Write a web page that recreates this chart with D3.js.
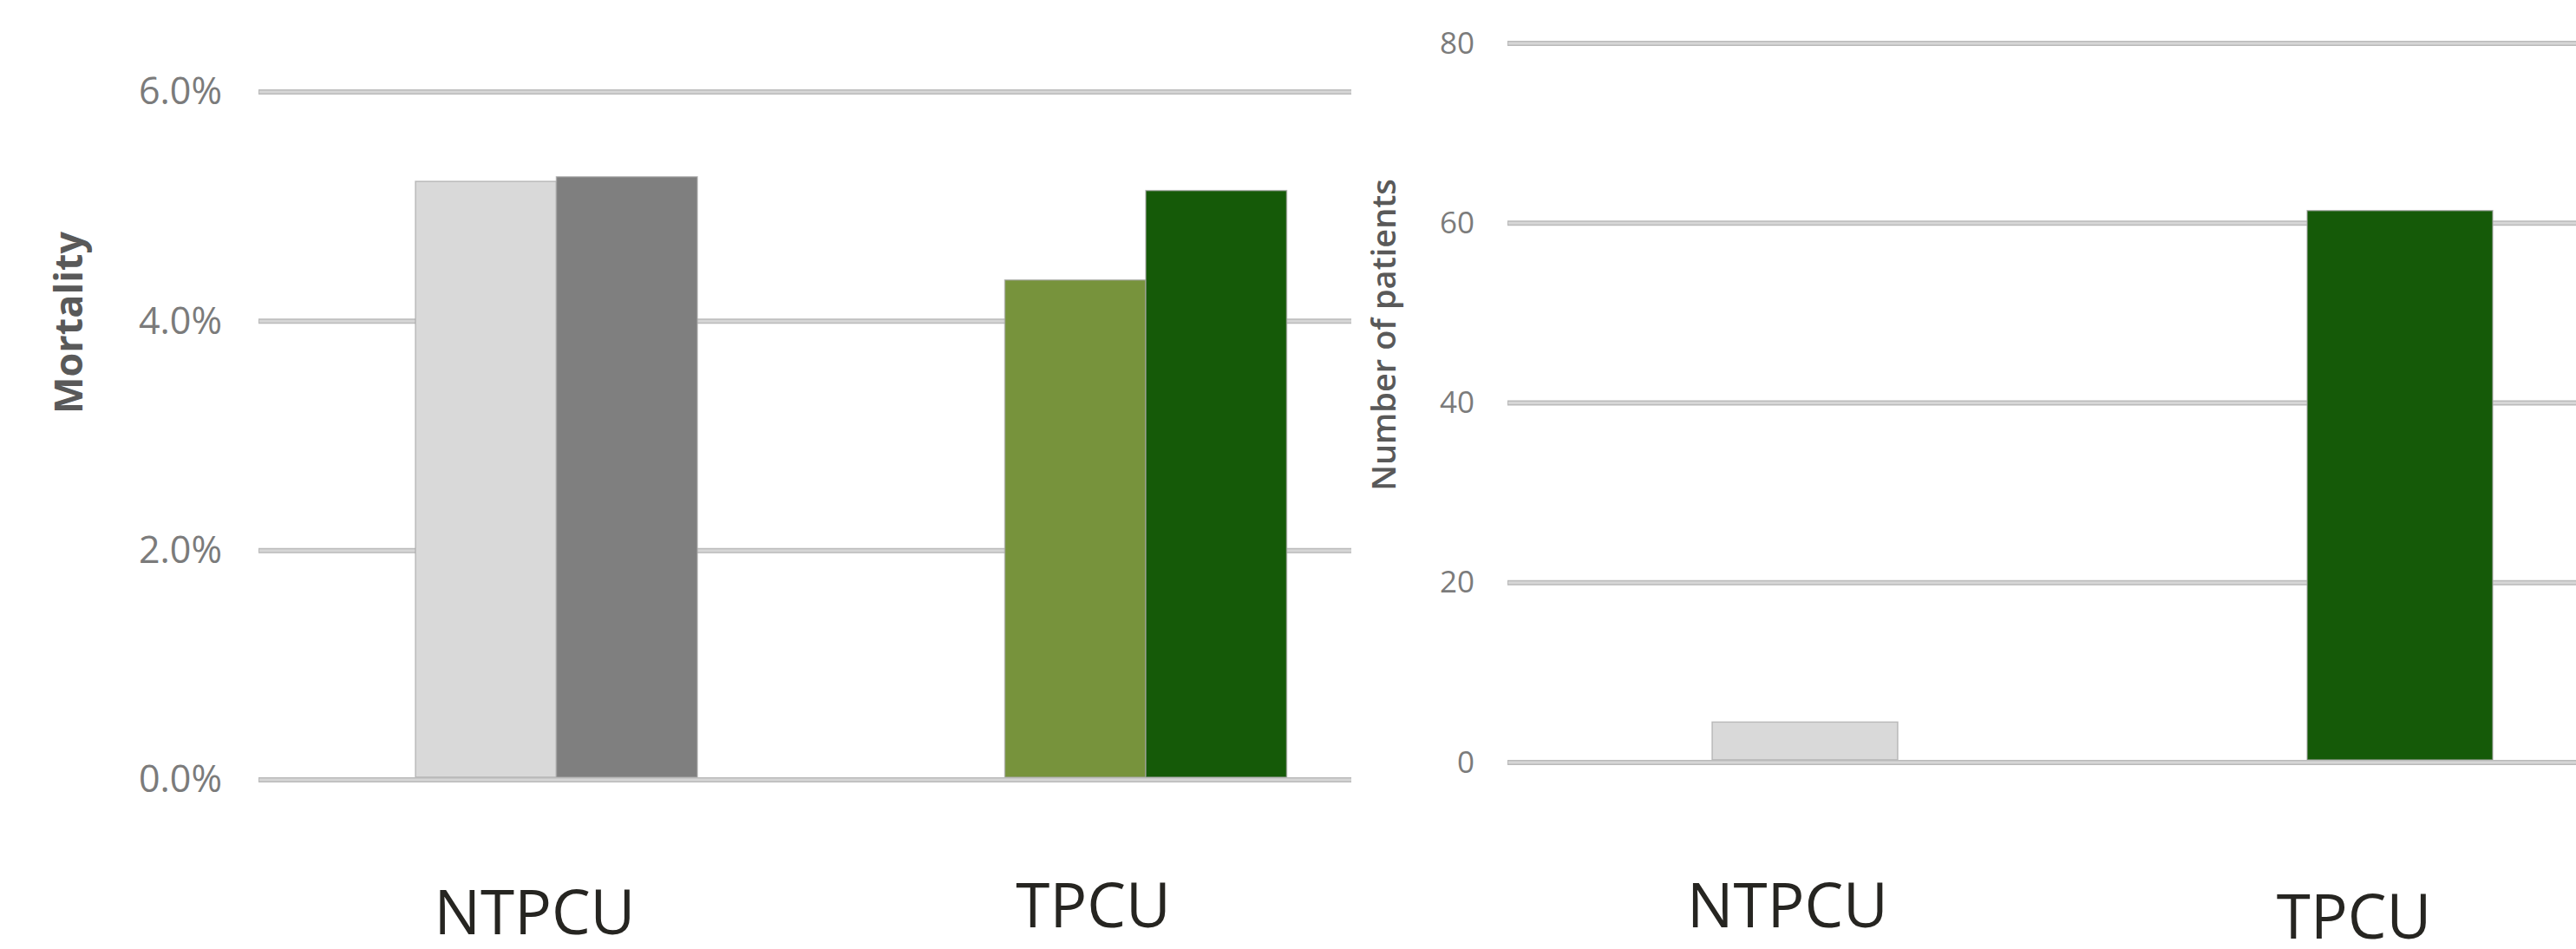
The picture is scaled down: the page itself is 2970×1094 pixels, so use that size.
<!DOCTYPE html>
<html>
<head>
<meta charset="utf-8">
<script src="https://cdn.jsdelivr.net/npm/d3@7"></script>
<style>
  html, body { margin: 0; padding: 0; background: #ffffff; }
  svg { display: block; }
</style>
</head>
<body>
<svg id="chart" width="2970" height="1094"></svg>
<script>
// ---- data ----
const categories = ["NTPCU", "TPCU"];
// mortality (%) per unit, two bars per unit
const mortalityValues = [[5.22, 5.26], [4.36, 5.14]];
const mortalityColors = [["#d9d9d9", "#7f7f7f"], ["#77933c", "#155a08"]];
const mortalityTicks = [0, 2, 4, 6];
// number of patients per unit
const patientCounts = [4.5, 61.4];
const patientColors = ["#d9d9d9", "#155a08"];
const patientTicks = [0, 20, 40, 60, 80];

const svg = d3.select("#chart");

function gridLines(g, ticks, y, x0, x1) {
  const sel = g.selectAll("g.grid").data(ticks).join("g").attr("class", "grid");
  sel.append("line")
    .attr("x1", x0).attr("x2", x1)
    .attr("y1", d => y(d)).attr("y2", d => y(d))
    .attr("stroke", "#bababa").attr("stroke-width", 6);
  sel.append("line")
    .attr("x1", x0 + 1).attr("x2", x1)
    .attr("y1", d => y(d)).attr("y2", d => y(d))
    .attr("stroke", "#d6d6d6").attr("stroke-width", 3);
}

function styleAxis(g, size) {
  g.select(".domain").remove();
  g.selectAll(".tick line").remove();
  g.selectAll(".tick text")
    .attr("font-family", "'Open Sans', sans-serif")
    .attr("font-size", size)
    .attr("fill", "#7b7b7b");
}

// ---- left panel: mortality ----
{
  const gridX0 = 298, gridX1 = 1558;
  const y = d3.scaleLinear().domain([0, 6]).range([899, 106]);
  const x = d3.scalePoint().domain(categories).range([641.5, 1321]);
  const sub = d3.scaleBand().domain([0, 1]).range([-162.5, 162.5]).padding(0);

  const g = svg.append("g");
  gridLines(g, mortalityTicks, y, gridX0, gridX1);

  const groups = g.selectAll("g.cat").data(categories).join("g")
    .attr("class", "cat")
    .attr("transform", d => `translate(${x(d)},0)`);
  groups.selectAll("rect")
    .data((d, i) => mortalityValues[i].map((v, j) => ({ v, c: mortalityColors[i][j], j })))
    .join("rect")
    .attr("x", d => sub(d.j))
    .attr("width", sub.bandwidth())
    .attr("y", d => y(d.v))
    .attr("height", d => y(0) - 3 - y(d.v))
    .attr("fill", d => d.c)
    .attr("stroke", "#a6a6a6")
    .attr("stroke-opacity", 0.7)
    .attr("stroke-width", 1.5);

  // baseline on top of the bars
  gridLines(svg.append("g"), [0], y, gridX0, gridX1);

  const axis = svg.append("g")
    .attr("transform", `translate(${gridX0 - 42},0)`)
    .call(d3.axisLeft(y).tickValues(mortalityTicks).tickSize(0).tickPadding(0)
      .tickFormat(d => d3.format(".1f")(d) + "%"));
  styleAxis(axis, 43);

  svg.append("text")
    .attr("transform", "translate(95,372) rotate(-90)")
    .attr("text-anchor", "middle")
    .attr("font-family", "'Open Sans', sans-serif")
    .attr("font-weight", 700)
    .attr("font-size", 45)
    .attr("fill", "#595959")
    .text("Mortality");

  const labelX = d3.scalePoint().domain(categories).range([616.5, 1260.5]);
  const labelBase = { NTPCU: 1077, TPCU: 1069 };
  svg.append("g").selectAll("text").data(categories).join("text")
    .attr("x", d => labelX(d))
    .attr("y", d => labelBase[d])
    .attr("text-anchor", "middle")
    .attr("font-family", "'Open Sans', sans-serif")
    .attr("font-size", 71)
    .attr("fill", "#262521")
    .text(d => d);
}

// ---- right panel: number of patients ----
{
  const gridX0 = 1738, gridX1 = 2970;
  const y = d3.scaleLinear().domain([0, 80]).range([879, 50]);
  const x = d3.scalePoint().domain(categories).range([2081, 2767]);
  const barW = 214;

  const g = svg.append("g");
  gridLines(g, patientTicks, y, gridX0, gridX1);

  g.selectAll("rect.bar").data(categories).join("rect")
    .attr("class", "bar")
    .attr("x", d => x(d) - barW / 2)
    .attr("width", barW)
    .attr("y", (d, i) => y(patientCounts[i]))
    .attr("height", (d, i) => y(0) - 3 - y(patientCounts[i]))
    .attr("fill", (d, i) => patientColors[i])
    .attr("stroke", "#a6a6a6")
    .attr("stroke-opacity", 0.7)
    .attr("stroke-width", 1.5);

  gridLines(svg.append("g"), [0], y, gridX0, gridX1);

  const axis = svg.append("g")
    .attr("transform", `translate(${gridX0 - 38},0)`)
    .call(d3.axisLeft(y).tickValues(patientTicks).tickSize(0).tickPadding(0));
  styleAxis(axis, 35);

  svg.append("text")
    .attr("transform", "translate(1609,386) rotate(-90)")
    .attr("text-anchor", "middle")
    .attr("font-family", "'Open Sans', sans-serif")
    .attr("font-weight", 600)
    .attr("font-size", 38)
    .attr("fill", "#595959")
    .text("Number of patients");

  const labelX = d3.scalePoint().domain(categories).range([2061, 2714]);
  const labelBase = { NTPCU: 1069, TPCU: 1082 };
  svg.append("g").selectAll("text").data(categories).join("text")
    .attr("x", d => labelX(d))
    .attr("y", d => labelBase[d])
    .attr("text-anchor", "middle")
    .attr("font-family", "'Open Sans', sans-serif")
    .attr("font-size", 71)
    .attr("fill", "#262521")
    .text(d => d);
}
</script>
</body>
</html>
